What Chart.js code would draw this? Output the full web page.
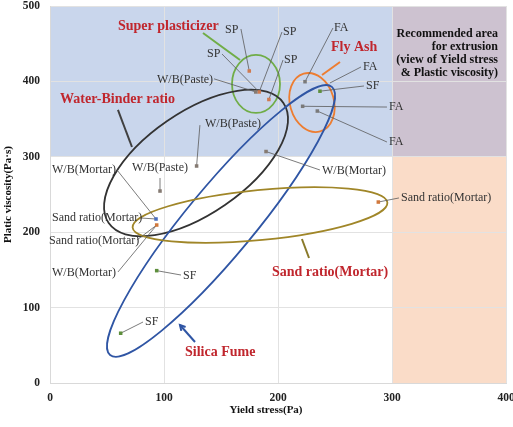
<!DOCTYPE html>
<html>
<head>
<meta charset="utf-8">
<script src="https://cdn.jsdelivr.net/npm/chart.js@4"></script>
<style>html,body{margin:0;padding:0;background:#fff}</style>
</head>
<body>
<canvas id="grafica" width="513" height="427"></canvas>
<script>
// valores (Yield stress Pa, Plastic viscosity Pa·s)
var xTicks = [0, 100, 200, 300, 400];
var yTicks = [0, 100, 200, 300, 400, 500];

var wbX = [96.5, 128.6, 180.5, 189.5];
var wbY = [254.6, 287.8, 386, 307];
var faX = [223.7, 221.6, 234.5];
var faY = [399.6, 367, 360.7];
var spX = [174.8, 183.5, 192];
var spY = [413.8, 386, 376];
var sfX = [93.6, 62, 236.8];
var sfY = [149, 66, 387];
var sandBlueX = [93];
var sandBlueY = [217.5];
var sandX = [93.6, 288];
var sandY = [209.5, 240];

function pares(xs, ys) {
    return xs.map(function (x, i) { return {x: x, y: ys[i]}; });
}

var serif = '"Liberation Serif", "Times New Roman", serif';

// zonas sombreadas
var zonas = [
    {x0: 0, x1: 300, y0: 300, y1: 500, color: '#c9d6ec'},
    {x0: 300, x1: 400, y0: 300, y1: 500, color: '#cdc2d0'},
    {x0: 300, x1: 400, y0: 0, y1: 300, color: '#fadcc8'}
];

// elipses: centro en datos, semiejes en px, giro en grados
var elipses = [
    {x: 180.7, y: 396.6, rx: 24, ry: 29, rot: 0, color: '#70ad47'},
    {x: 229.8, y: 372, rx: 22, ry: 30, rot: -16, color: '#ed7d31'},
    {x: 128.1, y: 291.8, rx: 106, ry: 51, rot: -34.5, color: '#333333'},
    {x: 150, y: 214.9, rx: 174, ry: 34, rot: -50.4, color: '#2f55a4'},
    {x: 184.2, y: 222.8, rx: 128, ry: 25, rot: -5.6, color: '#a08628'}
];

// etiquetas con linea guia
var notas = [
    {t: 'SP', x: 153.5, y: 468.2, l: [[167.5, 469.5], [174.8, 413.8]]},
    {t: 'SP', x: 137.7, y: 436.3, l: [[150.9, 436.3], [183.5, 386]]},
    {t: 'W/B(Paste)', x: 93.9, y: 401.9, l: [[143.9, 403.4], [180.5, 386]]},
    {t: 'SP', x: 204.4, y: 465.5, l: [[203.5, 465.5], [183.5, 386]]},
    {t: 'SP', x: 205.3, y: 428.4, l: [[204.4, 428.4], [192, 376]]},
    {t: 'FA', x: 249.1, y: 470.8, l: [[248.2, 470.8], [223.7, 399.6]]},
    {t: 'FA', x: 274.6, y: 419.1, l: [[272.8, 419.1], [245.6, 397.9]]},
    {t: 'SF', x: 277.2, y: 393.9, l: [[275.4, 393.9], [236.8, 387]]},
    {t: 'FA', x: 297.4, y: 366, l: [[295.6, 366], [221.6, 367]]},
    {t: 'FA', x: 297.4, y: 319.6, l: [[295.6, 319.6], [234.5, 360.7]]},
    {t: 'W/B(Mortar)', x: 238.6, y: 281.2, l: [[236.8, 282.5], [189.5, 307]]},
    {t: 'Sand ratio(Mortar)', x: 307.9, y: 245.4, l: [[306.1, 245.4], [288, 240]]},
    {t: 'W/B(Paste)', x: 136, y: 343.5, l: [[131.5, 342], [128.6, 287.8]]},
    {t: 'W/B(Paste)', x: 71.9, y: 285.1, l: [[96.5, 271.9], [96.5, 254.6]]},
    {t: 'W/B(Mortar)', x: 1.75, y: 282.5, l: [[58.8, 282.5], [93, 217.5]]},
    {t: 'Sand ratio(Mortar)', x: 1.75, y: 218.8, l: [[79.8, 218.8], [93, 217.5]]},
    {t: 'Sand ratio(Mortar)', x: -0.9, y: 188.3, l: [[76.3, 189.7], [93.6, 209.5]]},
    {t: 'W/B(Mortar)', x: 1.75, y: 145.9, l: [[59.6, 147.2], [93.6, 209.5]]},
    {t: 'SF', x: 116.7, y: 141.9, l: [[114.9, 143.2], [93.6, 149]]},
    {t: 'SF', x: 83.3, y: 80.9, l: [[81.6, 80.9], [62, 66]]}
];

// titulos de grupo en rojo y su flecha
var grupos = [
    {t: 'Super plasticizer', x: 59.6, y: 473.5, l: [[134.2, 464.2], [166.7, 428.4]], color: '#70ad47'},
    {t: 'Water-Binder ratio', x: 8.8, y: 376.7, l: [[59.6, 362.1], [71.9, 313]], color: '#404040'},
    {t: 'Fly Ash', x: 246.5, y: 445.6, l: [[254.4, 425.7], [238.6, 408.5]], color: '#ed7d31'},
    {t: 'Silica Fume', x: 118.4, y: 41.1, l: [[127.2, 54.4], [114, 76.9]], color: '#2f55a4'},
    {t: 'Sand ratio(Mortar)', x: 194.7, y: 147.2, l: [[227.2, 165.8], [221, 191]], color: '#8a7a2a'}
];

var recomendado = ['Recommended area', 'for extrusion', '(view of Yield stress', '& Plastic viscosity)'];

var dibujos = {
    id: 'dibujos',
    beforeDraw: function (chart) {
        var c = chart.ctx, sx = chart.scales.x, sy = chart.scales.y;
        c.save();
        zonas.forEach(function (z) {
            var x0 = sx.getPixelForValue(z.x0), x1 = sx.getPixelForValue(z.x1);
            var y0 = sy.getPixelForValue(z.y0), y1 = sy.getPixelForValue(z.y1);
            c.fillStyle = z.color;
            c.fillRect(x0, y1, x1 - x0, y0 - y1);
        });
        c.restore();
    },
    beforeDatasetsDraw: function (chart) {
        var c = chart.ctx, sx = chart.scales.x, sy = chart.scales.y;
        c.save();
        c.lineWidth = 1.8;
        elipses.forEach(function (e) {
            c.beginPath();
            c.strokeStyle = e.color;
            c.ellipse(sx.getPixelForValue(e.x), sy.getPixelForValue(e.y), e.rx, e.ry, e.rot * Math.PI / 180, 0, 2 * Math.PI);
            c.stroke();
        });
        c.lineWidth = 0.8;
        c.strokeStyle = '#5a5a5a';
        notas.forEach(function (n) {
            c.beginPath();
            n.l.forEach(function (p, i) {
                var px = sx.getPixelForValue(p[0]), py = sy.getPixelForValue(p[1]);
                if (i === 0) c.moveTo(px, py); else c.lineTo(px, py);
            });
            c.stroke();
        });
        c.lineWidth = 2;
        grupos.forEach(function (g) {
            var ax = sx.getPixelForValue(g.l[0][0]), ay = sy.getPixelForValue(g.l[0][1]);
            var bx = sx.getPixelForValue(g.l[1][0]), by = sy.getPixelForValue(g.l[1][1]);
            c.strokeStyle = g.color;
            c.beginPath();
            c.moveTo(ax, ay);
            c.lineTo(bx, by);
            c.stroke();
            if (g.t === 'Silica Fume') {
                var ang = Math.atan2(by - ay, bx - ax);
                c.beginPath();
                c.moveTo(bx - 6 * Math.cos(ang - 0.5), by - 6 * Math.sin(ang - 0.5));
                c.lineTo(bx, by);
                c.lineTo(bx - 6 * Math.cos(ang + 0.5), by - 6 * Math.sin(ang + 0.5));
                c.stroke();
            }
        });
        c.restore();
    },
    afterDatasetsDraw: function (chart) {
        var c = chart.ctx, sx = chart.scales.x, sy = chart.scales.y;
        c.save();
        c.textBaseline = 'middle';
        c.textAlign = 'left';
        c.fillStyle = '#333';
        c.font = '12px ' + serif;
        notas.forEach(function (n) {
            c.fillText(n.t, sx.getPixelForValue(n.x), sy.getPixelForValue(n.y));
        });
        c.fillStyle = '#c0262d';
        c.font = 'bold 14px ' + serif;
        grupos.forEach(function (g) {
            c.fillText(g.t, sx.getPixelForValue(g.x), sy.getPixelForValue(g.y));
        });
        c.fillStyle = '#111';
        c.font = 'bold 12px ' + serif;
        c.textAlign = 'right';
        recomendado.forEach(function (t, i) {
            c.fillText(t, sx.getPixelForValue(393), sy.getPixelForValue(463) + i * 13);
        });
        // titulo eje x
        c.textAlign = 'center';
        c.font = 'bold 11px ' + serif;
        c.fillText('Yield stress(Pa)', 266, 410);
        c.restore();
    }
};

function punto(color) {
    return {
        pointStyle: 'rect',
        pointRadius: 2.5,
        pointBorderWidth: 0,
        backgroundColor: color,
        borderColor: color,
        showLine: false
    };
}

var ctx = document.getElementById('grafica');
var grafica = new Chart(ctx, {
    type: 'scatter',
    data: {
        datasets: [
            Object.assign({label: 'W/B', data: pares(wbX, wbY)}, punto('#857a72')),
            Object.assign({label: 'FA', data: pares(faX, faY)}, punto('#7a7a7a')),
            Object.assign({label: 'SP', data: pares(spX, spY)}, punto('#d07a50')),
            Object.assign({label: 'SF', data: pares(sfX, sfY)}, punto('#5e8f3c')),
            Object.assign({label: 'Sand', data: pares(sandBlueX, sandBlueY)}, punto('#4a6fc0')),
            Object.assign({label: 'Sand2', data: pares(sandX, sandY)}, punto('#d0783c'))
        ]
    },
    options: {
        responsive: false,
        animation: false,
        layout: {padding: {top: 6, right: 7, left: 0, bottom: 0}},
        plugins: {legend: {display: false}, tooltip: {enabled: false}},
        scales: {
            x: {
                type: 'linear',
                min: 0,
                max: 400,
                afterBuildTicks: function (s) { s.ticks = xTicks.map(function (v) { return {value: v}; }); },
                afterFit: function (s) { s.height = 44; s.paddingLeft = 0; s.paddingRight = 0; },
                grid: {color: '#e2e2e2', drawTicks: false},
                border: {color: '#d9d9d9'},
                ticks: {padding: 8, maxRotation: 0, color: '#222', font: {family: serif, size: 11.5, weight: 'bold'}}
            },
            y: {
                type: 'linear',
                min: 0,
                max: 500,
                afterBuildTicks: function (s) { s.ticks = yTicks.map(function (v) { return {value: v}; }); },
                afterFit: function (s) { s.width = 50; s.paddingTop = 0; s.paddingBottom = 0; },
                grid: {color: '#e2e2e2', drawTicks: false},
                border: {color: '#d9d9d9'},
                ticks: {padding: 10, color: '#222', font: {family: serif, size: 11.5, weight: 'bold'}},
                title: {
                    display: true,
                    text: 'Platic viscosity(Pa·s)',
                    color: '#111',
                    padding: {top: 2, bottom: 0},
                    font: {family: serif, size: 11, weight: 'bold'}
                }
            }
        }
    },
    plugins: [dibujos]
});
</script>
</body>
</html>
